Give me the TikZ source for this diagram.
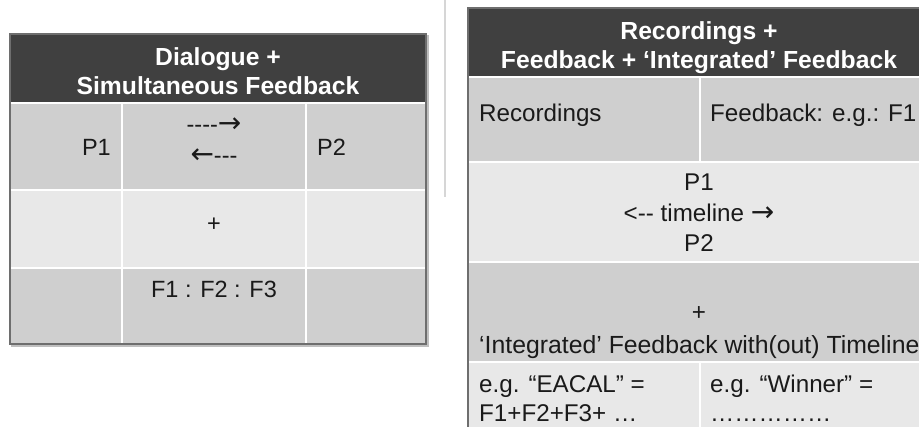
\documentclass[tikz,border=0pt]{standalone}
\usepackage{fontspec}
\newfontfamily\arial{Liberation Sans}
\newfontfamily\arrowfont{DejaVu Sans}
\newcommand{\rarr}{{\arrowfont\fontsize{28}{30}\selectfont →}}
\newcommand{\larr}{{\arrowfont\fontsize{28}{30}\selectfont ←}}
\definecolor{headgray}{HTML}{404040}
\definecolor{rowdark}{HTML}{CFCFCF}
\definecolor{rowlight}{HTML}{E8E8E8}
\definecolor{framegray}{HTML}{6E6E6E}
\definecolor{sepgray}{HTML}{D6D6D6}
\definecolor{inkgray}{HTML}{1A1A1A}
\tikzset{
  cell/.style={rectangle, draw=white, line width=1.5pt, anchor=north west,
    inner sep=0pt, outer sep=0pt},
  headtxt/.style={font=\arial\bfseries\fontsize{24.7}{29}\selectfont, text=white,
    anchor=base, inner sep=0pt},
  txt/.style={font=\arial\fontsize{23.5}{29}\selectfont, text=inkgray,
    anchor=base, inner sep=0pt},
  rtxt/.style={font=\arial\fontsize{24.2}{30}\selectfont, text=inkgray,
    anchor=base, inner sep=0pt},
  frame/.style={draw=framegray, line width=1.2pt},
  shadow/.style={draw=black!25, line width=1.5pt},
}
\begin{document}
\begin{tikzpicture}[x=1pt,y=-1pt]
\useasboundingbox (0,0) rectangle (919,427);
\fill[white] (0,0) rectangle (919,427);
\clip (0,0) rectangle (919,427);

% thin divider between the two tables
\draw[sepgray, line width=1.5pt] (445,0) -- (445,197);

% ---------- left table ----------
\draw[shadow] (12,36) rectangle (428,346);
\node[cell, fill=headgray, minimum width=416pt, minimum height=69pt] (lhead) at (10,34) {};
\node[cell, fill=rowdark, minimum width=112pt, minimum height=87pt] (la1) at (10,103) {};
\node[cell, fill=rowdark, minimum width=184pt, minimum height=87pt] (lb1) at (122,103) {};
\node[cell, fill=rowdark, minimum width=120pt, minimum height=87pt] (lc1) at (306,103) {};
\node[cell, fill=rowlight, minimum width=112pt, minimum height=78pt] (la2) at (10,190) {};
\node[cell, fill=rowlight, minimum width=184pt, minimum height=78pt] (lb2) at (122,190) {};
\node[cell, fill=rowlight, minimum width=120pt, minimum height=78pt] (lc2) at (306,190) {};
\node[cell, fill=rowdark, minimum width=112pt, minimum height=76pt] (la3) at (10,268) {};
\node[cell, fill=rowdark, minimum width=184pt, minimum height=76pt] (lb3) at (122,268) {};
\node[cell, fill=rowdark, minimum width=120pt, minimum height=76pt] (lc3) at (306,268) {};
\draw[frame] (10,34) rectangle (426,344);

\node[headtxt] (lh1) at (218,66) {Dialogue +};
\node[headtxt] (lh2) at (218,95) {Simultaneous Feedback};
\node[txt, anchor=base east] (lp1) at (111,155.5) {P1};
\node[txt] (larr1) at (214,133) {----\rarr};
\node[txt] (larr2) at (214,164) {\larr---};
\node[txt, anchor=base west] (lp2) at (317,155.5) {P2};
\node[txt] (lplus) at (214,232) {+};
\node[txt] (lfs) at (214,297.5) {F1 : F2 : F3};

% ---------- right table ----------
\draw[shadow] (470,10) rectangle (932,442);
\node[cell, fill=headgray, minimum width=462pt, minimum height=69pt] (rhead) at (468,8) {};
\node[cell, fill=rowdark, minimum width=232pt, minimum height=85pt] (ra1) at (468,77) {};
\node[cell, fill=rowdark, minimum width=230pt, minimum height=85pt] (rb1) at (700,77) {};
\node[cell, fill=rowlight, minimum width=462pt, minimum height=100pt] (r2) at (468,162) {};
\node[cell, fill=rowdark, minimum width=462pt, minimum height=100pt] (r3) at (468,262) {};
\node[cell, fill=rowlight, minimum width=232pt, minimum height=78pt] (ra4) at (468,362) {};
\node[cell, fill=rowlight, minimum width=230pt, minimum height=78pt] (rb4) at (700,362) {};
\draw[frame] (468,8) rectangle (930,440);

\node[headtxt] (rh1) at (699,40) {Recordings +};
\node[headtxt] (rh2) at (699,69) {Feedback + ‘Integrated’ Feedback};
\node[rtxt, anchor=base west] (rrec) at (479,121.5) {Recordings};
\node[rtxt, anchor=base west] (rfb) at (710,121.5) {Feedback: e.g.: F1};
\node[rtxt] (rp1) at (699,190.5) {P1};
\node[rtxt] (rtl) at (699,221.5) {<-- timeline \rarr};
\node[rtxt] (rp2) at (699,251.5) {P2};
\node[rtxt] (rplus) at (699,321) {+};
\node[rtxt, anchor=base west, font=\arial\fontsize{24.8}{30}\selectfont] (rint) at (479,353.5) {‘Integrated’ Feedback with(out) Timeline};
\node[rtxt, anchor=base west] (re1) at (479,392.5) {e.g. “EACAL” =};
\node[rtxt, anchor=base west] (re2) at (479,422) {F1+F2+F3+ …};
\node[rtxt, anchor=base west] (rw1) at (710,392.5) {e.g. “Winner” =};
\node[rtxt, anchor=base west] (rw2) at (710,422) {……………};
\end{tikzpicture}
\end{document}
